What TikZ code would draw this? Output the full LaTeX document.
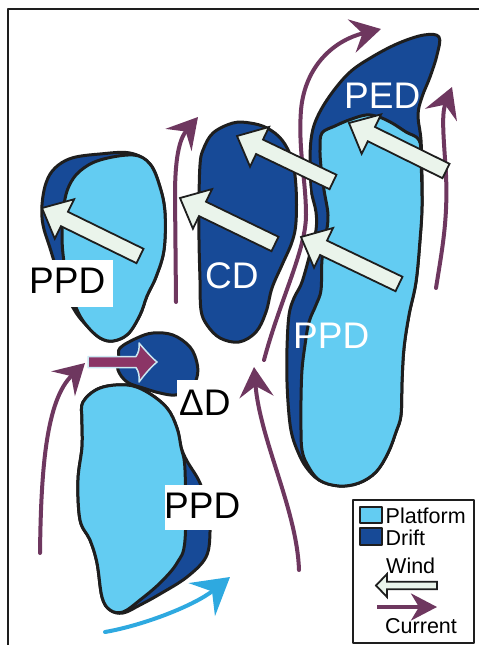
\documentclass[tikz,border=0pt]{standalone}
\usepackage{fontspec}
\setmainfont{Liberation Sans}
\usetikzlibrary{arrows.meta,calc}
\definecolor{plat}{HTML}{63CCF2}
\definecolor{drift}{HTML}{174A97}
\definecolor{windc}{HTML}{EAF4EB}
\definecolor{currc}{HTML}{6E375F}
\definecolor{darr}{HTML}{8B3566}
\definecolor{darrl}{HTML}{CBE8F2}
\definecolor{bluearr}{HTML}{2EA9E0}
\definecolor{outl}{HTML}{1E1E1E}
% wind arrow: #1 shaft half width, #2 head length, #3 head half width, #4 tail, #5 tip
\newcommand\windarr[5]{%
  \path ($(#5)!#2!(#4)$) coordinate (wH);
  \draw[windarrow] ($(#4)!#1!90:(#5)$) -- ($(wH)!#1!90:(#5)$) -- ($(wH)!#3!90:(#5)$)
    -- (#5) -- ($(wH)!#3!-90:(#5)$) -- ($(wH)!#1!-90:(#5)$) -- ($(#4)!#1!-90:(#5)$) -- cycle;}
\begin{document}
\begin{tikzpicture}[x=1pt,y=-1pt,line join=round,
  blobd/.style={fill=drift,draw=outl,line width=3pt},
  blobl/.style={fill=plat,draw=outl,line width=3pt},
  current/.style={draw=currc,line width=4pt,line cap=round,
     -{Stealth[length=30pt,width=34pt,inset=11pt]},
     preaction={draw=white,line width=10pt,arrows=-,shorten >=22pt}},
  windarrow/.style={fill=windc,draw=outl,line width=1.8pt,line join=miter},
  bigw/.style={font=\fontsize{37}{40}\selectfont,text=white,inner sep=0pt,anchor=base west},
  bigk/.style={font=\fontsize{37}{40}\selectfont,text=black,inner sep=0pt,anchor=base west},
  legtext/.style={font=\fontsize{21.5}{24}\selectfont,text=black,inner sep=0pt,anchor=base west},
  labbox/.style={fill=white,draw=none}]
\useasboundingbox (0,0) rectangle (479,645);
% frame
\draw[outl,line width=1.6pt] (8,645) -- (8,9) -- (479,9);

% top-left PPD
\draw[blobd] plot[smooth cycle,tension=0.6] coordinates {(100,154) (130,153) (150,164) (160,187) (165,213) (164,250) (156,277) (147,296) (140,315) (128,334) (113,341) (100,338) (87,326) (75,311) (62,285) (50,248) (43,225) (42,205) (46,183) (55,168) (72,158)};
\draw[blobl] plot[smooth cycle,tension=0.6] coordinates {(133,155) (150,164) (160,187) (165,213) (164,250) (156,277) (147,296) (140,315) (128,334) (113,341) (100,338) (87,326) (78,312) (70,290) (64,262) (62,235) (64,205) (69,186) (80,171) (100,160)};

% bottom PPD
\draw[blobd] plot[smooth cycle,tension=0.6] coordinates {(83,402) (100,388) (127,385) (147,392) (167,408) (177,428) (181,447) (187,461) (200,483) (208,510) (210,532) (206,557) (187,577) (160,594) (140,605) (123,613) (110,610) (102,597) (97,563) (90,540) (80,520) (78,480) (82,447) (82,420)};
\draw[blobl] plot[smooth cycle,tension=0.6] coordinates {(83,402) (100,388) (127,385) (147,392) (167,408) (177,428) (181,447) (185,470) (185,540) (177,563) (160,583) (140,600) (123,612) (110,610) (102,597) (97,563) (90,540) (80,520) (78,480) (82,447) (82,420)};

% Delta D blob
\draw[blobd] plot[smooth cycle,tension=0.6] coordinates {(120,348) (137,338) (153,333) (173,335) (190,347) (197,363) (197,377) (190,390) (175,395) (160,393) (143,388) (127,382) (118,370) (119,358)};

% CD blob
\draw[blobd] plot[smooth cycle,tension=0.6] coordinates {(233,123) (213,133) (203,150) (200,165) (199,200) (199,240) (200,280) (201,310) (207,325) (220,338) (239,342) (256,332) (266,312) (272,288) (282,265) (292,242) (296,222) (296,187) (292,160) (282,140) (267,128) (250,123)};

% right blob (PED + PPD)
\draw[blobd] plot[smooth cycle,tension=0.6] coordinates {(439,37) (437,55) (430,77) (422,97) (418,115) (421,140) (422,175) (422,206) (420,240) (416,282) (409,315) (404,348) (402,382) (401,415) (396,432) (388,453) (376,472) (359,483) (339,486) (319,480) (306,467) (298,452) (292,435) (289,415) (287,382) (287,348) (289,315) (294,298) (302,282) (311,250) (316,230) (316,212) (311,190) (310,167) (311,140) (316,120) (329,97) (349,73) (372,57) (399,43) (424,35)};
\draw[blobl] plot[smooth cycle,tension=0.6] coordinates {(322,133) (335,126) (349,120) (366,115) (379,117) (392,123) (406,132) (419,140) (421,160) (422,206) (420,240) (416,282) (409,315) (404,348) (402,382) (401,415) (396,432) (388,453) (376,472) (359,483) (339,486) (319,480) (307,464) (302,450) (301,430) (301,400) (302,370) (305,345) (309,322) (316,305) (321,290) (322,260) (326,235) (328,215) (324,190) (321,167) (320,148)};

% current arrows
\coordinate (aS) at (176,302); \coordinate (aE) at (198,117);
\coordinate (bS) at (264,360); \coordinate (bE) at (381,29);
\coordinate (cS) at (436,288); \coordinate (cE) at (452,87);
\coordinate (dS) at (40,553);  \coordinate (dE) at (85,363);
\coordinate (eS) at (299,570); \coordinate (eE) at (254,367);
\coordinate (gS) at (105,632); \coordinate (gE) at (230,577);
\draw[current] (aS) -- (175,195) .. controls (175,152) and (181,137) .. (aE);
\draw[current] (bS) .. controls (280,300) and (306,250) .. (306,215)
   .. controls (306,180) and (298,150) .. (301,110)
   .. controls (305,65) and (335,40) .. (bE);
\draw[current] (cS) .. controls (442,250) and (448,220) .. (446,175)
   .. controls (444,140) and (441,115) .. (cE);
\draw[current] (dS) .. controls (41,470) and (46,400) .. (dE);
\draw[current] (eS) .. controls (297,510) and (260,440) .. (eE);
\draw[draw=bluearr,line width=4pt,line cap=round,-{Stealth[length=36pt,width=42pt,inset=13pt]}]
   (gS) .. controls (145,625) and (195,605) .. (gE);

% wind arrows
\coordinate (w1t) at (140,256); \coordinate (w1h) at (42,208);
\coordinate (w2t) at (275,244); \coordinate (w2h) at (180,198);
\coordinate (w3t) at (333,182); \coordinate (w3h) at (237,136);
\coordinate (w4t) at (399,284); \coordinate (w4h) at (301,237);
\coordinate (w5t) at (446,171); \coordinate (w5h) at (349,123);
\windarr{8pt}{25pt}{22pt}{w1t}{w1h}
\windarr{8pt}{25pt}{22pt}{w2t}{w2h}
\windarr{8pt}{25pt}{22pt}{w3t}{w3h}
\windarr{8pt}{25pt}{22pt}{w4t}{w4h}
\windarr{8pt}{25pt}{22pt}{w5t}{w5h}

% Delta D arrow
\draw[fill=darr,draw=darrl,line width=1.5pt] (88,356.5) -- (136,356.5)
  .. controls (139,352) and (139.5,348) .. (139,343)
  .. controls (145,350) and (151,357) .. (157,362)
  .. controls (151,367) and (145,374) .. (139,382)
  .. controls (139.5,376) and (139,372) .. (136,367.5) -- (88,367.5) -- cycle;

% labels
\fill[labbox] (30,260) rectangle (113,307);
\fill[labbox] (165,485) rectangle (247,530);
\fill[labbox] (177,380) rectangle (237,420);
\node[bigk] (ppd1) at (29,293) {PPD};
\node[bigk] (ppd3) at (164,518) {PPD};
\node[bigk] (dd) at (179,415) {ΔD};
\node[bigw] (cd) at (205,288) {CD};
\node[bigw] (ppd2) at (293,348) {PPD};
\node[bigw] (ped) at (344,108) {PED};

% legend
\draw[outl,line width=1.5pt,fill=white] (353,500) rectangle (474,643);
\draw[fill=plat,draw=outl,line width=1.3pt] (360,507) rectangle (382,523);
\draw[fill=drift,draw=outl,line width=1.3pt] (360,528) rectangle (382,545);
\node[legtext] (lp) at (385.5,523) {Platform};
\node[legtext] (ld) at (385.5,545) {Drift};
\node[legtext] (lw) at (386,573) {Wind};
\node[legtext] (lc) at (385,633) {Current};
\coordinate (lwt) at (437,585.5); \coordinate (lwh) at (376,585.5);
\windarr{3.7pt}{11pt}{11.5pt}{lwt}{lwh}
\coordinate (lcs) at (377,607); \coordinate (lce) at (437,607);
\draw[draw=currc,line width=3.5pt,-{Stealth[length=26pt,width=27pt,inset=8pt]}] (lcs) -- (lce);
\end{tikzpicture}
\end{document}
